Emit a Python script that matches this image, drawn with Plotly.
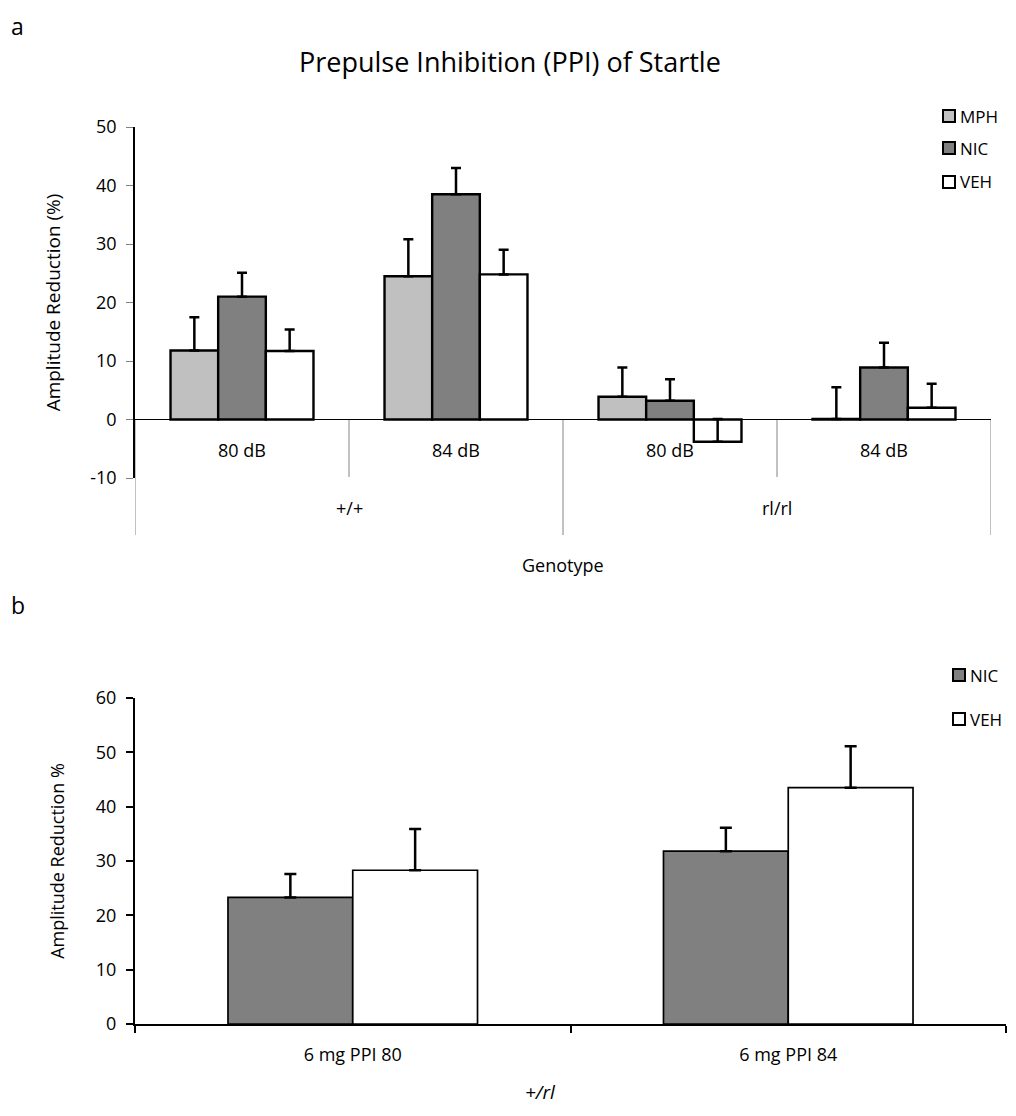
import plotly.graph_objects as go

# ---------------- data ----------------
# Panel a
genotypes = ["+/+", "rl/rl"]
conditions = ["80 dB", "84 dB", "80 dB", "84 dB"]
a_series = ["MPH", "NIC", "VEH"]
a_mph = [11.8, 24.5, 3.9, 0.1]
a_mph_err = [5.7, 6.3, 5.0, 5.4]
a_nic = [21.0, 38.5, 3.2, 8.9]
a_nic_err = [4.1, 4.5, 3.7, 4.2]
a_veh = [11.7, 24.8, -3.8, 2.0]
a_veh_err = [3.7, 4.2, 3.9, 4.1]
a_yticks = [-10, 0, 10, 20, 30, 40, 50]
a_yticktext = ["-10", "0", "10", "20", "30", "40", "50"]

# Panel b
b_categories = ["6 mg PPI 80", "6 mg PPI 84"]
b_series = ["NIC", "VEH"]
b_nic = [23.3, 31.8]
b_nic_err = [4.3, 4.3]
b_veh = [28.3, 43.5]
b_veh_err = [7.6, 7.6]
b_yticks = [0, 10, 20, 30, 40, 50, 60]

# ---------------- layout helpers ----------------
OFF = 8                       # page offset of the figure (body margin)
FW, FH = 1000, 1100
L, R, T, B = 127, 2, 92, 52   # figure-pixel margins
PW, PH = FW - L - R, FH - T - B
FONT = "Open Sans"


def px(x):
    """page x pixel -> paper"""
    return (x - OFF - L) / PW


def py(y):
    """page y pixel -> paper"""
    return (FH - B - (y - OFF)) / PH


COLORS = {"MPH": "#c0c0c0", "NIC": "#808080", "VEH": "#ffffff"}

fig = go.Figure()

# ---------------- panel a ----------------
xa = list(range(len(conditions)))
wa = 0.668 / 3
for k, (name, vals, errs) in enumerate(zip(a_series, [a_mph, a_nic, a_veh],
                                            [a_mph_err, a_nic_err, a_veh_err])):
    fig.add_trace(go.Bar(
        x=xa, y=vals, width=wa, offset=(k - 1.5) * wa, name=name,
        marker=dict(color=COLORS[name], line=dict(color="black", width=2.4)),
        error_y=dict(type="data", array=errs, arrayminus=[0] * len(errs),
                     symmetric=False, color="black", thickness=2.5, width=5),
        xaxis="x", yaxis="y", showlegend=False,
    ))

# ---------------- panel b ----------------
wb = 0.573 / 2
for k, (name, vals, errs) in enumerate(zip(b_series, [b_nic, b_veh],
                                            [b_nic_err, b_veh_err])):
    fig.add_trace(go.Bar(
        x=b_categories, y=vals, width=wb, offset=(k - 1) * wb, name=name,
        marker=dict(color=COLORS[name], line=dict(color="black", width=1.7)),
        error_y=dict(type="data", array=errs, arrayminus=[0] * len(errs),
                     symmetric=False, color="black", thickness=2.5, width=6),
        xaxis="x2", yaxis="y2", showlegend=False,
    ))

tickfont = dict(family=FONT, size=18, color="black")
labfont = dict(family=FONT, size=18, color="black")
legfont = dict(family=FONT, size=17, color="black")

shapes = []
annotations = []

# separators below panel a axis
for i, xb in enumerate([-0.5, 0.5, 1.5, 2.5, 3.5]):
    ybot = 535 if i % 2 == 0 else 477
    shapes.append(dict(type="line", xref="x", yref="paper",
                       x0=xb, x1=xb, y0=py(420), y1=py(ybot),
                       line=dict(color="#a0a0a0", width=1.3)))


# hand-made legends (square key + label)
def add_legend(names, x_sq, ys, size=12):
    for name, yc in zip(names, ys):
        shapes.append(dict(type="rect", xref="paper", yref="paper",
                           x0=px(x_sq), x1=px(x_sq + size),
                           y0=py(yc + size / 2), y1=py(yc - size / 2),
                           fillcolor=COLORS[name], line=dict(color="black", width=2)))
        annotations.append(dict(x=px(x_sq + size + 3), y=py(yc), xref="paper", yref="paper",
                                text=name, showarrow=False, font=legfont,
                                xanchor="left", yanchor="middle"))


add_legend(a_series, 943, [116, 148, 182])
add_legend(b_series, 953, [675, 719])

for i, c in enumerate(conditions):
    annotations.append(dict(x=i, y=py(450), xref="x", yref="paper", text=c,
                            showarrow=False, font=labfont,
                            xanchor="center", yanchor="middle"))
for j, g in enumerate(genotypes):
    annotations.append(dict(x=0.5 + 2 * j, y=py(508), xref="x", yref="paper", text=g,
                            showarrow=False, font=labfont,
                            xanchor="center", yanchor="middle"))
annotations += [
    dict(x=px(563), y=py(565), xref="paper", yref="paper", text="Genotype",
         showarrow=False, font=labfont, xanchor="center", yanchor="middle"),
    dict(x=px(510), y=py(62), xref="paper", yref="paper",
         text="Prepulse Inhibition (PPI) of Startle",
         showarrow=False, font=dict(family=FONT, size=27, color="black"),
         xanchor="center", yanchor="middle"),
    dict(x=px(9), y=py(8.5), xref="paper", yref="paper", text="a",
         showarrow=False, font=dict(family=FONT, size=23, color="black"),
         xanchor="left", yanchor="top"),
    dict(x=px(9), y=py(587), xref="paper", yref="paper", text="b",
         showarrow=False, font=dict(family=FONT, size=23, color="black"),
         xanchor="left", yanchor="top"),
    dict(x=px(540), y=py(1107), xref="paper", yref="paper", text="<i>+/rl</i>",
         showarrow=False, font=dict(family=FONT, size=19, color="black"),
         xanchor="center", yanchor="bottom"),
]

fig.update_layout(
    width=FW, height=FH,
    margin=dict(l=L, r=R, t=T, b=B),
    paper_bgcolor="white", plot_bgcolor="white",
    barmode="overlay",
    showlegend=False,
    font=dict(family=FONT, color="black"),
    xaxis=dict(domain=[px(135), px(991)], range=[-0.5, 3.5], showgrid=False,
               zeroline=False, showline=False, showticklabels=False, ticks="",
               anchor="y", fixedrange=True),
    yaxis=dict(domain=[py(478), py(127)], range=[-10, 50],
               tickvals=a_yticks, ticktext=a_yticktext,
               showgrid=False, zeroline=True, zerolinecolor="black", zerolinewidth=1.3,
               showline=True, linecolor="black", linewidth=1.5,
               ticks="outside", ticklen=7, tickcolor="#808080", tickwidth=1,
               ticklabelstandoff=6, tickfont=tickfont, anchor="x",
               title=dict(text="Amplitude Reduction (%)",
                          font=dict(family=FONT, size=19, color="black"), standoff=25)),
    xaxis2=dict(domain=[px(135), px(1006)], type="category", showgrid=False,
                zeroline=False, showline=True, linecolor="black", linewidth=2,
                ticks="outside", tickson="boundaries", ticklen=7, tickwidth=2,
                tickcolor="black", tickfont=tickfont, ticklabelstandoff=13,
                anchor="y2"),
    yaxis2=dict(domain=[py(1024), py(698)], range=[0, 60], tickvals=b_yticks,
                showgrid=False, zeroline=False,
                showline=True, linecolor="black", linewidth=2,
                ticks="outside", ticklen=7, tickcolor="black", tickwidth=2,
                ticklabelstandoff=6, tickfont=tickfont, anchor="x2",
                title=dict(text="Amplitude Reduction %", font=labfont, standoff=27)),
    shapes=shapes,
    annotations=annotations,
)

fig.write_html("out.html")
